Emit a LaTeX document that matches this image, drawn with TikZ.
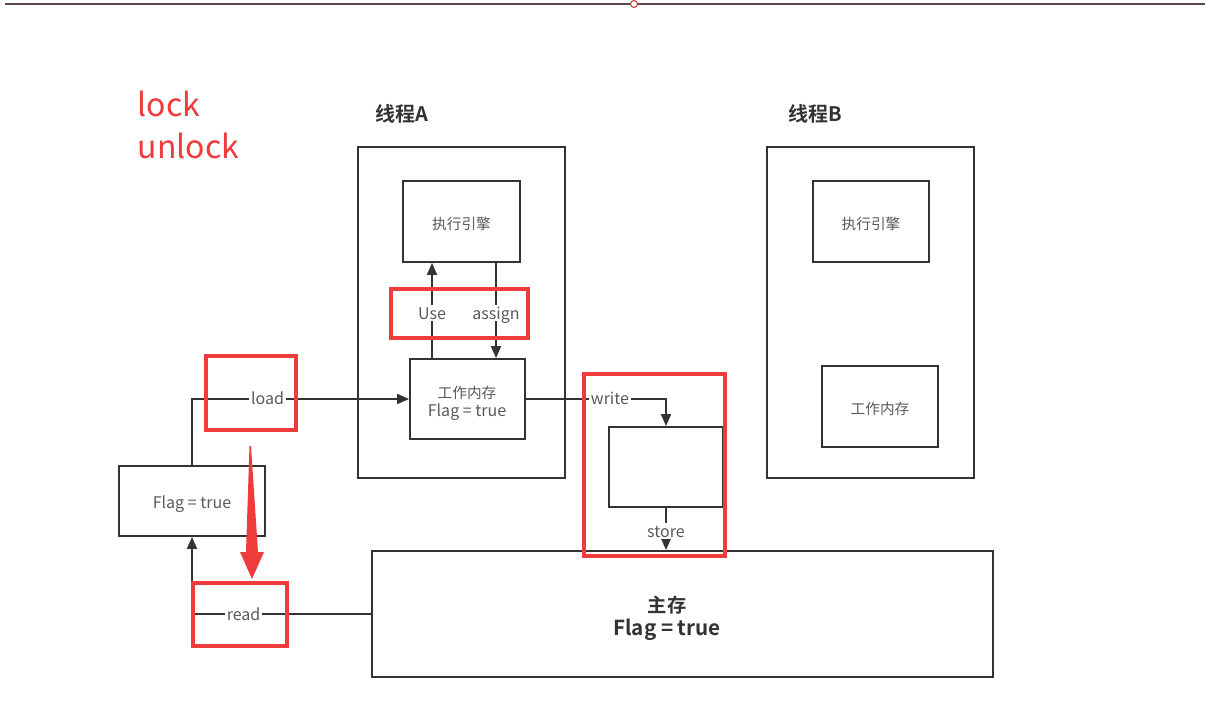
\documentclass[tikz,border=0pt]{standalone}
\usepackage{fontspec}
\setmainfont{Noto Sans CJK SC}[BoldFont={Noto Sans CJK SC Bold}]
\usetikzlibrary{arrows.meta,fit,calc}
\definecolor{ink}{HTML}{333333}
\definecolor{lblgray}{HTML}{595959}
\definecolor{annot}{HTML}{EE3B3B}
\definecolor{topline}{HTML}{5A4848}
\tikzset{
  box/.style={draw=ink, line width=1.4pt, inner sep=0pt},
  txt/.style={inner sep=0pt, text height=0.75em, text depth=0.05em, text=lblgray, yshift=-2.3pt},
  cjk/.style={txt, font=\fontsize{11}{13}\selectfont},
  lat/.style={txt, font=\fontsize{12}{14}\selectfont},
  redbox/.style={draw=annot, line width=2.5pt, inner sep=0pt},
  arr/.style={draw=ink, line width=1.4pt, -{Triangle[length=9pt,width=7.5pt]}},
  lbl/.style={fill=white, inner xsep=1.5pt, inner ysep=1pt, text height=0.95em, text depth=0.05em, text=lblgray, font=\fontsize{12}{14}\selectfont},
  title/.style={text=ink, font=\bfseries\fontsize{15}{18}\selectfont, anchor=west, inner sep=0pt, text height=0.75em, text depth=0.05em, yshift=-1.5pt},
}
\begin{document}
\begin{tikzpicture}[x=0.75pt,y=-0.75pt]
\useasboundingbox (0,0) rectangle (1218,720);
% top line
\draw[topline, line width=1.6pt] (5,4) -- (1205,4);
\draw[draw=annot!70!topline, fill=white, line width=0.8pt] (634,4) circle (3.5);

% lock / unlock
\node[text=annot, font=\fontsize{24}{28}\selectfont, anchor=west] (lock) at (133,104) {lock};
\node[text=annot, font=\fontsize{24}{28}\selectfont, anchor=west] (unlock) at (133,146) {unlock};

% thread A
\node[title] (tAlbl) at (375,115) {线程A};
\node[box, fit={(358,147) (565,478)}] (tA) {};
\node[box, fit={(403,181) (520,262)}] (exA) {};
\node[cjk] (exAt) at (exA.center) {执行引擎};
\node[box, fit={(410,359) (525,439)}] (wmA) {};
\node[cjk] (wmAt1) at (467,391) {工作内存};
\node[lat] (wmAt2) at (467,409) {Flag = true};

% thread B
\node[title] (tBlbl) at (788,115) {线程B};
\node[box, fit={(767,147) (974,478)}] (tB) {};
\node[box, fit={(813,181) (929,262)}] (exB) {};
\node[cjk] (exBt) at (exB.center) {执行引擎};
\node[box, fit={(822,366) (938,447)}] (wmB) {};
\node[cjk] (wmBt) at (wmB.center) {工作内存};

% left flag box
\node[box, fit={(119,466) (265,536)}] (flag) {};
\node[lat] (flagt) at (flag.center) {Flag = true};
% small copy box
\node[box, fit={(609,427) (723,507)}] (cp) {};
% main memory
\node[box, fit={(372,551) (993,677)}] (mm) {};
\node[txt, text=ink, font=\bfseries\fontsize{14.5}{17}\selectfont] (mmt1) at (667,605) {主存};
\node[txt, text=ink, font=\bfseries\fontsize{15.5}{18}\selectfont] (mmt2) at (667,628) {Flag = true};

% connectors
\coordinate (ux) at (432,0);
\coordinate (ax) at (496,0);
\draw[arr] (wmA.north -| ux) -- node[lbl, pos=0.47] {Use} (exA.south -| ux);
\draw[arr] (exA.south -| ax) -- node[lbl, pos=0.53] {assign} (wmA.north -| ax);
\draw[arr] (flag.north) |- node[lbl, pos=0.674] {load} (wmA.west);
\draw[arr] (wmA.east) -| node[lbl, pos=0.3] {write} (cp.north);
\draw[arr] (cp.south) -- node[lbl, pos=0.55] {store} (mm.north -| cp.south);
\draw[arr] (mm.west) -| node[lbl, pos=0.356] {read} (flag.south);

% red annotation boxes
\node[redbox, fit={(391,289) (528,338)}] (rUse) {};
\node[redbox, fit={(206,356) (296,430)}] (rLoad) {};
\node[redbox, fit={(584,374) (725,556)}] (rWS) {};
\node[redbox, fit={(193,583) (287,646)}] (rRead) {};

% big red arrow
\fill[annot] (249.5,446) -- (251,446) -- (258,552) -- (264,552) -- (252,579) -- (240,552) -- (246,552) -- cycle;
\end{tikzpicture}
\end{document}
